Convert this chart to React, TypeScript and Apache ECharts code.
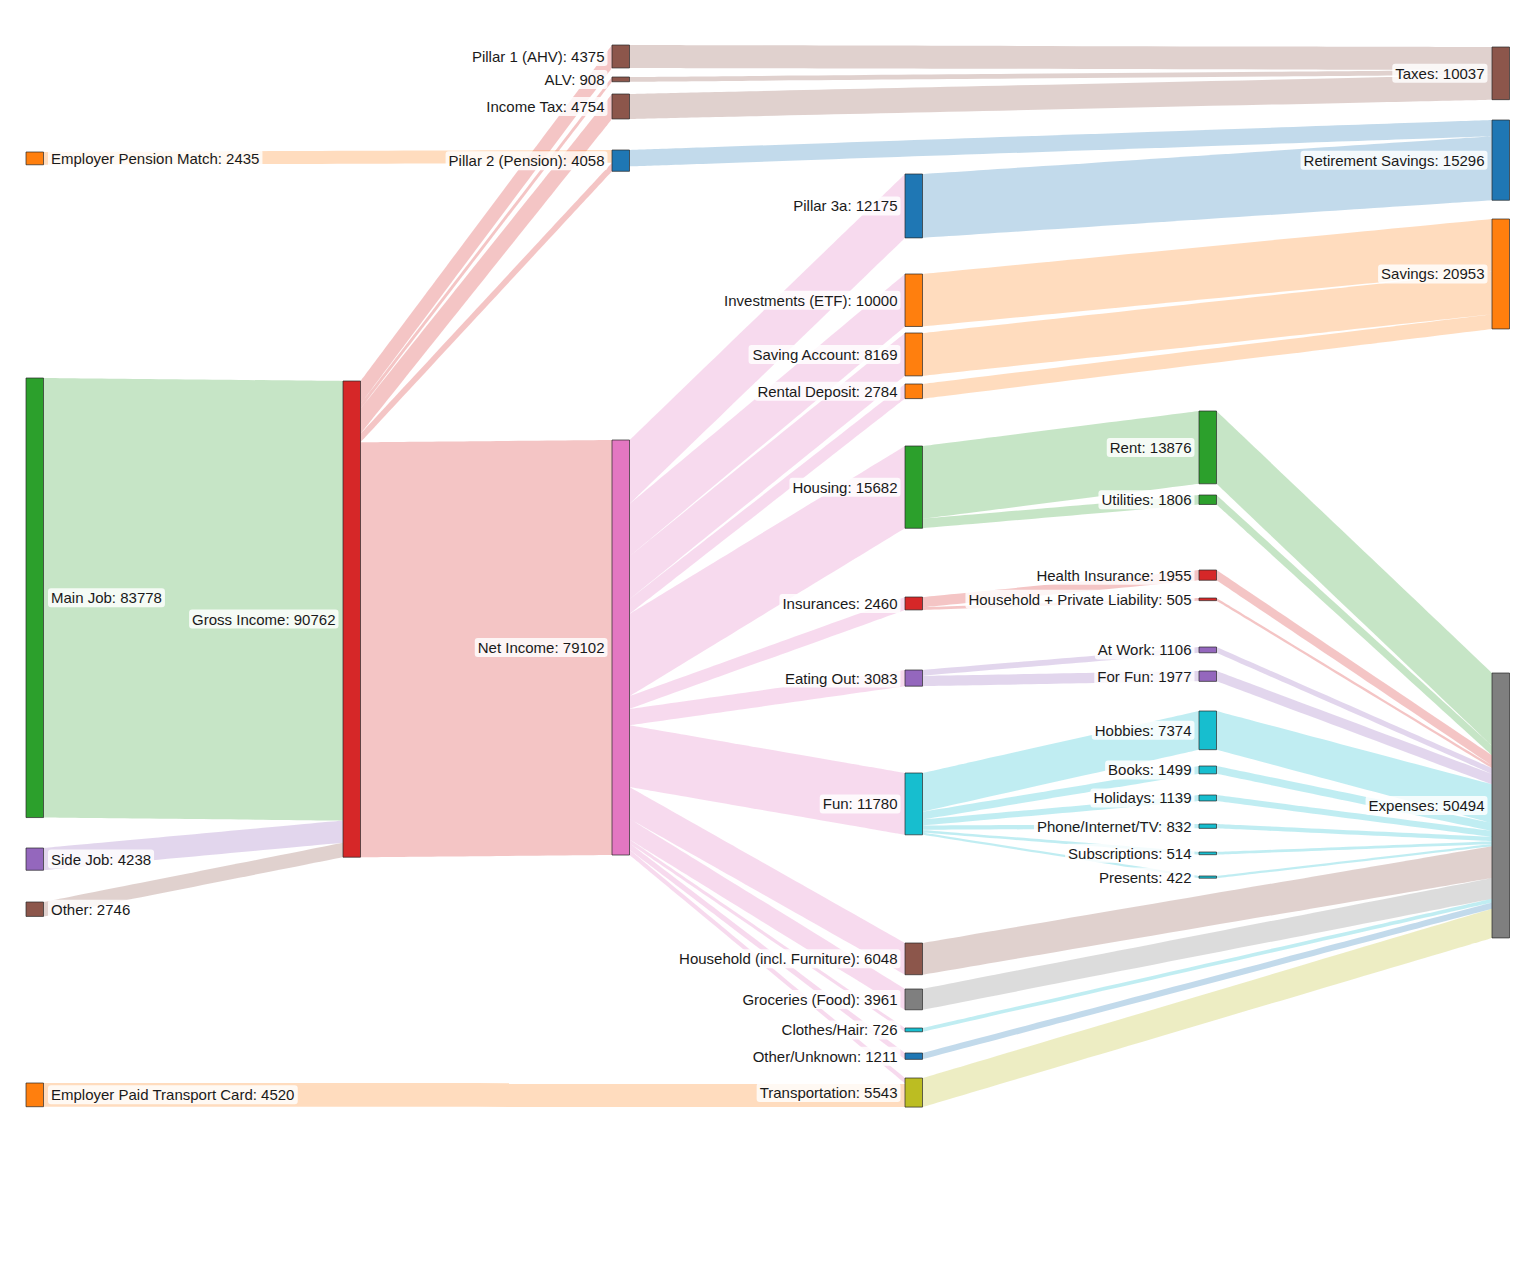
import React, { useEffect, useRef } from "react";
import * as echarts from "echarts";

const PAL: Record<string, string> = {
  blue: "#1f77b4",
  orange: "#ff7f0e",
  green: "#2ca02c",
  red: "#d62728",
  purple: "#9467bd",
  brown: "#8c564b",
  pink: "#e377c2",
  grey: "#7f7f7f",
  olive: "#bcbd22",
  cyan: "#17becf",
};

// ---------- data ----------
const nodeNames = [
  // column 0
  "Employer Pension Match", "Main Job", "Side Job", "Other", "Employer Paid Transport Card",
  // column 1
  "Gross Income",
  // column 2
  "Pillar 1 (AHV)", "ALV", "Income Tax", "Pillar 2 (Pension)", "Net Income",
  // column 3
  "Pillar 3a", "Investments (ETF)", "Saving Account", "Rental Deposit", "Housing", "Insurances",
  "Eating Out", "Fun", "Household (incl. Furniture)", "Groceries (Food)", "Clothes/Hair",
  "Other/Unknown", "Transportation",
  // column 4
  "Rent", "Utilities", "Health Insurance", "Household + Private Liability", "At Work", "For Fun",
  "Hobbies", "Books", "Holidays", "Phone/Internet/TV", "Subscriptions", "Presents",
  // column 5
  "Taxes", "Retirement Savings", "Savings", "Expenses",
];

const nodeValues = [
  2435, 83778, 4238, 2746, 4520,
  90762,
  4375, 908, 4754, 4058, 79102,
  12175, 10000, 8169, 2784, 15682, 2460, 3083, 11780, 6048, 3961, 726, 1211, 5543,
  13876, 1806, 1955, 505, 1106, 1977, 7374, 1499, 1139, 832, 514, 422,
  10037, 15296, 20953, 50494,
];

const nodeColorKeys = [
  "orange", "green", "purple", "brown", "orange",
  "red",
  "brown", "brown", "brown", "blue", "pink",
  "blue", "orange", "orange", "orange", "green", "red", "purple", "cyan", "brown", "grey", "cyan", "blue", "olive",
  "green", "green", "red", "red", "purple", "purple", "cyan", "cyan", "cyan", "cyan", "cyan", "cyan",
  "brown", "blue", "orange", "grey",
];

// links in drawing/stacking order
const linkSources = [
  "Main Job", "Side Job", "Other",
  "Gross Income", "Gross Income", "Gross Income",
  "Employer Pension Match", "Gross Income", "Gross Income",
  "Pillar 1 (AHV)", "ALV", "Income Tax",
  "Pillar 2 (Pension)",
  "Net Income", "Net Income", "Net Income", "Net Income", "Net Income", "Net Income", "Net Income",
  "Net Income", "Net Income", "Net Income", "Net Income", "Net Income", "Net Income",
  "Employer Paid Transport Card",
  "Pillar 3a",
  "Investments (ETF)", "Saving Account", "Rental Deposit",
  "Housing", "Housing", "Insurances", "Insurances", "Eating Out", "Eating Out",
  "Fun", "Fun", "Fun", "Fun", "Fun", "Fun",
  "Rent", "Utilities", "Health Insurance", "Household + Private Liability", "At Work", "For Fun",
  "Hobbies", "Books", "Holidays", "Phone/Internet/TV", "Subscriptions", "Presents",
  "Household (incl. Furniture)", "Groceries (Food)", "Clothes/Hair", "Other/Unknown", "Transportation",
];
const linkTargets = [
  "Gross Income", "Gross Income", "Gross Income",
  "Pillar 1 (AHV)", "ALV", "Income Tax",
  "Pillar 2 (Pension)", "Pillar 2 (Pension)", "Net Income",
  "Taxes", "Taxes", "Taxes",
  "Retirement Savings",
  "Pillar 3a", "Investments (ETF)", "Saving Account", "Rental Deposit", "Housing", "Insurances",
  "Eating Out", "Fun", "Household (incl. Furniture)", "Groceries (Food)", "Clothes/Hair",
  "Other/Unknown", "Transportation",
  "Transportation",
  "Retirement Savings",
  "Savings", "Savings", "Savings",
  "Rent", "Utilities", "Health Insurance", "Household + Private Liability", "At Work", "For Fun",
  "Hobbies", "Books", "Holidays", "Phone/Internet/TV", "Subscriptions", "Presents",
  "Expenses", "Expenses", "Expenses", "Expenses", "Expenses", "Expenses",
  "Expenses", "Expenses", "Expenses", "Expenses", "Expenses", "Expenses",
  "Expenses", "Expenses", "Expenses", "Expenses", "Expenses",
];
const linkValues = [
  83778, 4238, 2746,
  4375, 908, 4754,
  2435, 1623, 79102,
  4375, 908, 4754,
  3121,
  12175, 10000, 8169, 2784, 15682, 2460, 3083, 11780, 6048, 3961, 726, 1211, 1023,
  4520,
  12175,
  10000, 8169, 2784,
  13876, 1806, 1955, 505, 1106, 1977,
  7374, 1499, 1139, 832, 514, 422,
  13876, 1806, 1955, 505, 1106, 1977,
  7374, 1499, 1139, 832, 514, 422,
  6048, 3961, 726, 1211, 5543,
];

// ---------- layout (positions only) ----------
const columnX = [26, 343, 612, 905, 1199, 1492];
const nodeColumn = [
  0, 0, 0, 0, 0,
  1,
  2, 2, 2, 2, 2,
  3, 3, 3, 3, 3, 3, 3, 3, 3, 3, 3, 3, 3,
  4, 4, 4, 4, 4, 4, 4, 4, 4, 4, 4, 4,
  5, 5, 5, 5,
];
const nodeTop = [
  152, 378, 848, 902, 1083,
  381,
  45, 77, 94, 150, 440,
  174, 274, 333, 384, 446, 597, 670, 773, 943, 989, 1028, 1053, 1078,
  411, 495, 570, 598, 647, 671, 711, 766, 795, 824, 852, 876,
  47, 120, 219, 673,
];

const W = 1536;
const H = 476.2; // layout height -> scale: largest node (90762) spans H px

export default function App() {
  const ref = useRef<HTMLDivElement>(null);

  useEffect(() => {
    if (!ref.current) return;
    const chart = echarts.init(ref.current, undefined, { renderer: "svg" });

    const data = nodeNames.map((name, i) => {
      const col = nodeColumn[i];
      return {
        name,
        value: nodeValues[i],
        depth: i,
        localX: columnX[col] / W,
        localY: nodeTop[i] / H,
        itemStyle: {
          color: PAL[nodeColorKeys[i]],
          borderColor: "rgba(40,40,40,0.7)",
          borderWidth: 1,
        },
        label: {
          position: col === 0 ? "right" : "left",
        },
      };
    });

    const links = linkSources.map((s, i) => ({
      source: s,
      target: linkTargets[i],
      value: linkValues[i],
    }));

    chart.setOption({
      animation: false,
      backgroundColor: "#ffffff",
      series: [
        {
          type: "sankey",
          left: 0,
          top: 0,
          width: W,
          height: H,
          nodeWidth: 17.5,
          nodeGap: 8,
          nodeAlign: "left",
          layoutIterations: 0,
          draggable: false,
          emphasis: { disabled: true },
          data,
          links,
          lineStyle: {
            color: "source",
            opacity: 0.27,
            curveness: 0,
          },
          label: {
            show: true,
            distance: 4,
            color: "#1a1a1a",
            fontSize: 15,
            fontFamily: "'Liberation Sans', Arial, Helvetica, sans-serif",
            backgroundColor: "rgba(255,255,255,0.82)",
            borderRadius: 3,
            padding: [2, 3, 2, 3],
            formatter: (p: any) => `${p.name}: ${p.value}`,
          },
        },
      ],
    });

    return () => chart.dispose();
  }, []);

  return (
    <div
      ref={ref}
      style={{ position: "fixed", left: 0, top: 0, width: 1536, height: 1280, background: "#fff" }}
    />
  );
}
